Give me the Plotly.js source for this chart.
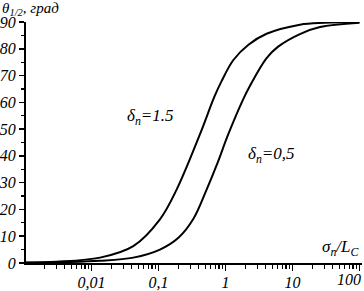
<!DOCTYPE html>
<html>
<head>
<meta charset="utf-8">
<script src="https://cdn.plot.ly/plotly-3.0.1.min.js"></script>
<style>html,body{margin:0;padding:0;background:#fff;}#chart{width:364px;height:291px;}</style>
</head>
<body>
<div id="chart"></div>
<script>
// Values
const xHigh = [0.001, 0.003, 0.0134, 0.042, 0.105, 0.187, 0.416, 0.68, 0.877, 1.31, 2.2, 4.1, 12.9, 30, 100];
const yHigh = [0.2, 0.5, 2.0, 6.3, 16.3, 27.5, 48.1, 62.0, 68.0, 75.8, 81.5, 85.6, 89.0, 89.7, 90];
const xLow = [0.001, 0.003, 0.0134, 0.042, 0.105, 0.2, 0.33, 0.524, 0.75, 1.10, 1.84, 2.32, 4.1, 6.1, 12.9, 25.7, 100];
const yLow = [0.1, 0.25, 0.8, 2.0, 5.0, 9.5, 16.4, 27.5, 37.0, 48.1, 61.2, 66.2, 76.5, 80.8, 85.5, 88.1, 89.7];
const seriesNames = ['δ<sub>n</sub>=1.5', 'δ<sub>n</sub>=0,5'];
const xTickVals = [0.01, 0.1, 1, 10, 100];
const xTickText = ['0,01', '0,1', '1', '10', ''];
const lastTickLabel = '100';
const yTickVals = [0, 10, 20, 30, 40, 50, 60, 70, 80, 90];

const allX = [];
const allXText = [];
[0.001, 0.01, 0.1, 1, 10].forEach(d => {
  for (let k = 1; k <= 9; k++) {
    const v = d * k;
    allX.push(v);
    const i = xTickVals.indexOf(v);
    allXText.push(i >= 0 ? xTickText[i] : '');
  }
});
allX.push(100); allXText.push('');

const font = {family: 'Liberation Serif, Times New Roman, serif', color: '#000', style: 'italic'};
const line = {color: '#000', width: 2, shape: 'spline', smoothing: 1};
const xRange = [-2.978, 2.037];

const data = [
  {x: xHigh, y: yHigh, type: 'scatter', mode: 'lines', line: line, name: seriesNames[0], hoverinfo: 'skip'},
  {x: xLow, y: yLow, type: 'scatter', mode: 'lines', line: line, name: seriesNames[1], hoverinfo: 'skip'},
  {x: [0.5], y: [-10], xaxis: 'x2', type: 'scatter', mode: 'markers', marker: {opacity: 0}, hoverinfo: 'skip', showlegend: false}
];

const layout = {
  width: 364, height: 291,
  margin: {l: 26, r: 2, t: 22, b: 27.5, pad: 0},
  paper_bgcolor: '#fff', plot_bgcolor: '#fff',
  showlegend: false,
  xaxis: {
    type: 'log', range: xRange,
    tickmode: 'array', tickvals: allX, ticktext: allXText,
    ticks: 'outside', ticklen: 4, tickwidth: 1.2, tickcolor: '#000',
    showline: true, linecolor: '#000', linewidth: 2,
    showgrid: false, zeroline: false,
    tickfont: Object.assign({size: 16}, font)
  },
  xaxis2: {
    type: 'log', range: xRange, overlaying: 'x', side: 'bottom', anchor: 'y',
    tickmode: 'array', tickvals: xTickVals, ticktext: xTickVals.map(() => ''),
    ticks: 'outside', ticklen: 7, tickwidth: 1.6, tickcolor: '#000',
    showline: false, showgrid: false, zeroline: false
  },
  yaxis: {
    range: [0, 90],
    tickmode: 'array', tickvals: yTickVals,
    ticks: 'outside', ticklen: 5, tickwidth: 1.6, tickcolor: '#000',
    minor: {dtick: 5, ticks: 'outside', ticklen: 3, tickwidth: 1.2, tickcolor: '#000', showgrid: false},
    showline: true, linecolor: '#000', linewidth: 2,
    showgrid: false, zeroline: false,
    tickfont: Object.assign({size: 16}, font)
  },
  annotations: [
    {xref: 'paper', yref: 'paper', x: -0.077, y: 1.1, xanchor: 'left', yanchor: 'top', showarrow: false,
     text: 'θ<sub>1/2</sub>, град', font: Object.assign({size: 15}, font)},
    {xref: 'paper', yref: 'paper', x: 1.0, y: 0.064, xanchor: 'right', yanchor: 'middle', showarrow: false,
     text: 'σ<sub>n</sub>/L<sub>C</sub>', font: Object.assign({size: 17}, font)},
    {xref: 'paper', yref: 'paper', x: 1.003, y: -0.068, xanchor: 'right', yanchor: 'middle', showarrow: false,
     text: lastTickLabel, font: Object.assign({size: 16}, font)},
    {x: Math.log10(0.077), y: 54.5, showarrow: false, text: seriesNames[0], font: Object.assign({size: 17}, font)},
    {x: Math.log10(4.78), y: 40.3, showarrow: false, text: seriesNames[1], font: Object.assign({size: 17}, font)}
  ]
};

Plotly.newPlot('chart', data, layout, {staticPlot: true, displayModeBar: false});
</script>
</body>
</html>
